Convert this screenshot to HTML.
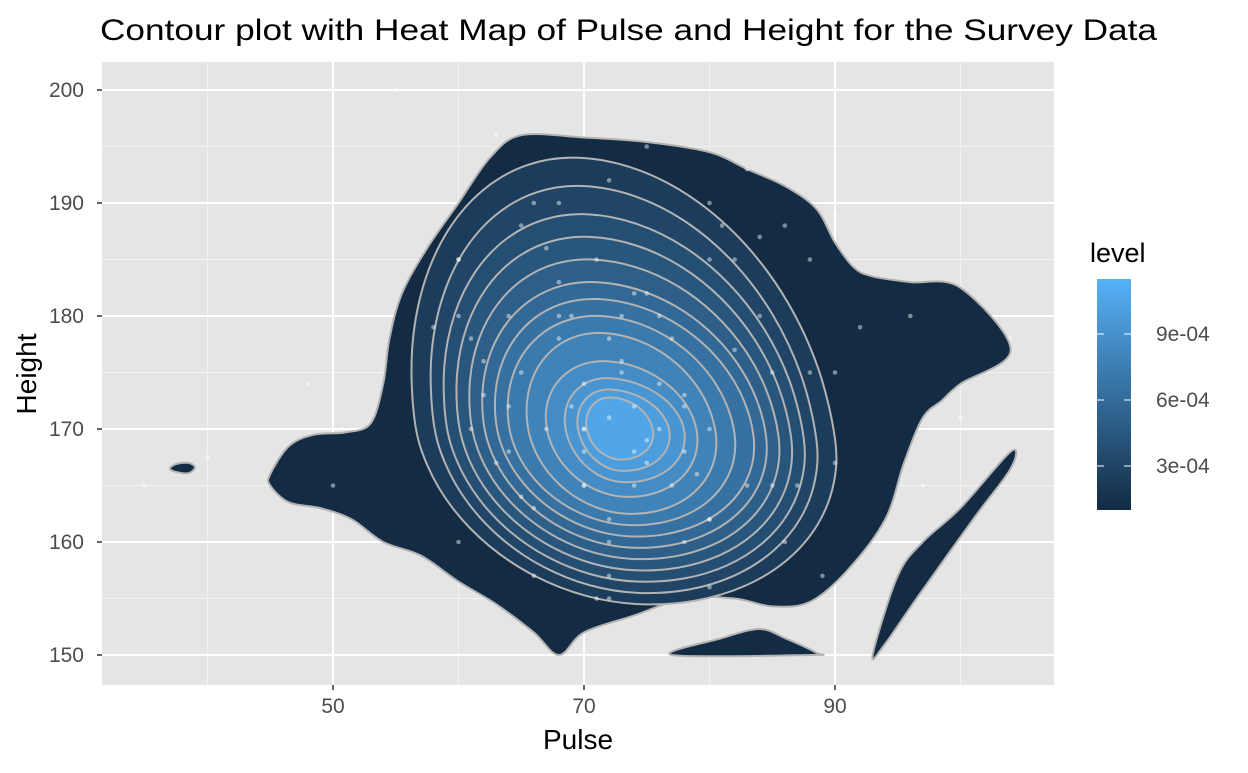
<!DOCTYPE html>
<html><head><meta charset="utf-8"><style>
body{margin:0;background:#fff;font-family:"Liberation Sans",Arial,sans-serif}
</style></head><body>
<svg id="chart" width="1248" height="768" xmlns="http://www.w3.org/2000/svg">
<text x="100" y="40" font-size="30" textLength="1057" lengthAdjust="spacingAndGlyphs" fill="#000">Contour plot with Heat Map of Pulse and Height for the Survey Data</text>
<rect x="102" y="62" width="952" height="623" fill="#e5e5e5"/>
<g id="grid"></g>
<g id="contours"></g>
<g id="points"></g>
<g id="axes"></g>
<text x="578" y="749" font-size="28" text-anchor="middle">Pulse</text>
<text transform="translate(36,374) rotate(-90)" font-size="28" text-anchor="middle">Height</text>
<g>
<defs><linearGradient id="lg" x1="0" y1="1" x2="0" y2="0"><stop offset="0" stop-color="#132B43"/><stop offset="1" stop-color="#56B1F7"/></linearGradient></defs>
<text x="1090" y="262" font-size="27">level</text>
<rect x="1097" y="279" width="34" height="231" fill="url(#lg)"/>
<g id="legend-ticks"></g>
</g>
</svg>
<script>
const NS='http://www.w3.org/2000/svg';
const xTicks=[50,70,90], xMinor=[40,60,80,100];
const yTicks=[150,160,170,180,190,200], yMinor=[155,165,175,185,195];
const legendLabels=['3e-04','6e-04','9e-04'], legendValues=[3e-4,6e-4,9e-4];
const legendMin=1.0e-4, legendMax=1.15e-3;
// outer contour polygon (pulse, height)
const outerPulse=[45,46.5,48.5,51,53,54,54.5,55.5,57.5,60,62.5,65,70,75,80,83,86,88.5,90,91.5,93,96,100,104,100,98.5,97,95.5,94,91,88,85,82,78,74,70,68,66,63,60,57,54,51.5,49,46.5,45];
const outerHeight=[166,168.5,169.5,169.7,170.5,174,178,182,186,190,194,196,195.8,195.4,194.5,193,191.5,189.5,186.5,184.3,183.5,183,182.5,177,174,172.5,171,167,162,157.5,154.7,154.3,155,155,153.5,152,150,152,154.5,156.5,158.8,160,162,163,163.5,165];
// nested levels: left/right pulse extent, top/bottom height extent
const lvLeft=[56.5,58,59,60,61,62,63,64,65.5,67,68.5,69.5,70.2];
const lvRight=[90,88.5,87.5,86.5,85.5,84.5,83.5,82,80.5,79,78,76.8,75.5];
const lvTop=[194,191.5,189,187,185,183,181.5,180,178.5,176,174.5,173.5,172.8];
const lvBottom=[154.5,155.5,156.5,157.5,158.5,159.5,160.5,161.5,162.5,164,165.3,166.3,167.3];
const centerPulse=72.5, centerHeight=170;
// small blobs
const blobLeftP=[37.5,38.5,39,38.5,37.5,37];const blobLeftH=[166.2,166.1,166.6,167,166.9,166.5];
const blobBotP=[77,81,84,86,88.5,88];const blobBotH=[150,151.5,152.3,151.5,150.2,150];
const blobRightP=[93,95,97,100,104,104,101,96.5,94];const blobRightH=[150,157,160,163,168,166.5,162,155,151];
// observations
const ptPulse=[35,40,48,50,55,63,60,60,61,62,64,65,65,66,67,68,68,69,70,70,70,71,72,72,72,73,74,75,75,76,77,78,78,79,80,80,80,81,82,83,84,85,86,87,88,89,90,90,90,92,96,97,100,104,62,64,66,67,68,70,71,72,73,74,75,76,77,78,80,82,84,66,72,74,76,78,80,85,88,64,60,61,63,65,68,70,72,75,80,70,72,74,69,73,83,86,58,60];
const ptHeight=[165,167.5,174,165,200,196,185,180,178,176,172,188,175,190,170,190,183,180,170,168,165,185,178,192,157,175,172,195,182,180,178,173,168,166,162,185,190,188,185,193,187,175,188,165,185,157,189,175,167,179,180,165,171,178,173,168,163,186,180,165,155,160,180,182,169,174,165,160,170,177,180,157,155,165,170,172,156,165,175,180,185,170,167,164,178,170,162,167,162,174,171,168,172,176,165,160,179,160];
const X=v=>333+(v-50)*12.55, Y=v=>90+(200-v)*11.3;
const lg=document.getElementById('grid');
function ln(g,x1,y1,x2,y2,c,w,name){const l=document.createElementNS(NS,'line');l.setAttribute('x1',x1);l.setAttribute('y1',y1);l.setAttribute('x2',x2);l.setAttribute('y2',y2);l.setAttribute('stroke',c);l.setAttribute('stroke-width',w);


g.appendChild(l);}
xMinor.forEach(v=>ln(lg,X(v),62,X(v),685,'#f2f2f2',1,'x-minor-gridline'));
yMinor.forEach(v=>ln(lg,102,Y(v),1054,Y(v),'#f2f2f2',1,'y-minor-gridline'));
xTicks.forEach(v=>ln(lg,X(v),62,X(v),685,'#fff',2,'x-gridline'));
yTicks.forEach(v=>ln(lg,102,Y(v),1054,Y(v),'#fff',2,'y-gridline'));
const ax=document.getElementById('axes');
function tx(g,x,y,s,anchor,name,size,fill){const t=document.createElementNS(NS,'text');t.setAttribute('x',x);t.setAttribute('y',y);t.setAttribute('text-anchor',anchor);t.setAttribute('font-size',size);t.setAttribute('fill',fill);t.textContent=s;


g.appendChild(t);}
xTicks.forEach(v=>{ln(ax,X(v),685,X(v),690,'#333',1.5,'x-tick');tx(ax,X(v),713,v,'middle','x-tick-label',21,'#4d4d4d');});
yTicks.forEach(v=>{ln(ax,97,Y(v),102,Y(v),'#333',1.5,'y-tick');tx(ax,84,Y(v)+7,v,'end','y-tick-label',21,'#4d4d4d');});
const lgt=document.getElementById('legend-ticks');
const LY=v=>510-(v-legendMin)/(legendMax-legendMin)*231;
legendValues.forEach((v,i)=>{ln(lgt,1097,LY(v),1104,LY(v),'#fff',1,'legend-tick');ln(lgt,1124,LY(v),1131,LY(v),'#fff',1,'legend-tick');tx(lgt,1156,LY(v)+7,legendLabels[i],'start','legend-label',21,'#4d4d4d');});
function mix(t){const a=[0x13,0x2B,0x43],b=[0x56,0xB1,0xF7];return 'rgb('+a.map((c,i)=>Math.round(c+(b[i]-c)*t)).join(',')+')';}
function smoothPath(px,py){const n=px.length;let d='';for(let i=0;i<n;i++){const p0=[px[(i-1+n)%n],py[(i-1+n)%n]],p1=[px[i],py[i]],p2=[px[(i+1)%n],py[(i+1)%n]],p3=[px[(i+2)%n],py[(i+2)%n]];
if(i===0)d+='M'+p1[0]+','+p1[1];
d+=' C'+(p1[0]+(p2[0]-p0[0])/6)+','+(p1[1]+(p2[1]-p0[1])/6)+' '+(p2[0]-(p3[0]-p1[0])/6)+','+(p2[1]-(p3[1]-p1[1])/6)+' '+p2[0]+','+p2[1];}
return d+'Z';}
const cg=document.getElementById('contours');
function poly(ps,hs,fill,name){const p=document.createElementNS(NS,'path');p.setAttribute('d',smoothPath(ps.map(X),hs.map(Y)));p.setAttribute('fill',fill);p.setAttribute('stroke','#b3b3b3');p.setAttribute('stroke-width',2);


cg.appendChild(p);}
poly(outerPulse,outerHeight,mix(0),'contour-level-1');
poly(blobLeftP,blobLeftH,mix(0),'contour-blob-left');
poly(blobBotP,blobBotH,mix(0),'contour-blob-bottom');
poly(blobRightP,blobRightH,mix(0),'contour-blob-right');
const N=lvLeft.length;
for(let k=0;k<N;k++){const ps=[],hs=[];for(let j=0;j<24;j++){const a=j/24*2*Math.PI,c=Math.cos(a),s=Math.sin(a);
const rx=c>=0?lvRight[k]-centerPulse:centerPulse-lvLeft[k];const ry=s>=0?lvTop[k]-centerHeight:centerHeight-lvBottom[k];
ps.push(centerPulse+rx*c-0.12*ry*s);hs.push(centerHeight+ry*s-0.05*rx*c);}
poly(ps,hs,mix(0.06+0.86*(k+1)/N),'contour-level-'+(k+2));}
const pg=document.getElementById('points');
ptPulse.forEach((p,i)=>{const c=document.createElementNS(NS,'circle');c.setAttribute('cx',X(p));c.setAttribute('cy',Y(ptHeight[i]));c.setAttribute('r',2.3);c.setAttribute('fill','rgba(255,255,255,0.45)');


pg.appendChild(c);});
</script>
</body></html>
